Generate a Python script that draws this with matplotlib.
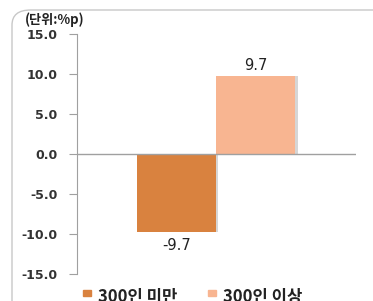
import matplotlib
matplotlib.use("Agg")
import matplotlib.pyplot as plt
from matplotlib.patches import FancyBboxPatch, Rectangle

plt.rcParams['font.family'] = ['DejaVu Sans', 'Noto Sans CJK KR']

series = ["300인 미만", "300인 이상"]
values = [-9.7, 9.7]
colors = ["#D9823F", "#F8B591"]
yticks = [-15.0, -10.0, -5.0, 0.0, 5.0, 10.0, 15.0]

fig = plt.figure(figsize=(3.73, 3.01), dpi=100)

# rounded frame, only top-left corner is visible
frame = FancyBboxPatch((12 / 373, -0.2), 1.2, 1 - 10 / 301 + 0.2,
                       boxstyle="round,pad=0,rounding_size=0.05",
                       transform=fig.transFigure, fill=False,
                       edgecolor="#C8C8C8", linewidth=1.0, zorder=0)
fig.patches.append(frame)

ax = fig.add_axes([77 / 373, 27 / 301, 279 / 373, 240 / 301])
positions = [1.26, 2.26]
for x, v, c in zip(positions, values, colors):
    # faint shadow
    ax.bar(x + 0.03, v, width=1.0, color="#D6D6D6", zorder=1)
    ax.bar(x, v, width=1.0, color=c, zorder=2)
    ax.annotate(f"{v:.1f}", (x, v), xytext=(0, 11 if v > 0 else -14),
                textcoords="offset pixels", ha="center", va="center",
                fontsize=10.5, color="#222222")

ax.set_xlim(0, 3.53)
ax.set_ylim(-15, 15)
ax.set_yticks(yticks)
ax.set_yticklabels([f"{t:.1f}" for t in yticks], fontsize=9, fontweight="bold",
                   color="#333333")
ax.tick_params(axis="y", direction="out", length=6, color="#A0A0A0", pad=8)
ax.set_xticks([])
for s in ["top", "right", "bottom"]:
    ax.spines[s].set_visible(False)
ax.spines["left"].set_color("#A0A0A0")
ax.axhline(0, color="#A0A0A0", linewidth=1.0, zorder=3)

fig.text(25 / 373, 1 - 20 / 301, "(단위:%p)", fontsize=9.5, fontweight="bold",
         family=["Noto Sans CJK KR", "DejaVu Sans"], va="center", color="#222222")

# legend
legx = [83, 208]
for lx, name, c in zip(legx, series, colors):
    fig.patches.append(Rectangle((lx / 373, 1 - 296 / 301), 8 / 373, 6 / 301,
                                 transform=fig.transFigure, color=c))
    fig.text((lx + 15) / 373, 1 - 297 / 301, name, fontsize=12, fontweight="bold",
             family=["Noto Sans CJK KR", "DejaVu Sans"], va="center", color="#222222")

fig.savefig("out.png", dpi=100)
